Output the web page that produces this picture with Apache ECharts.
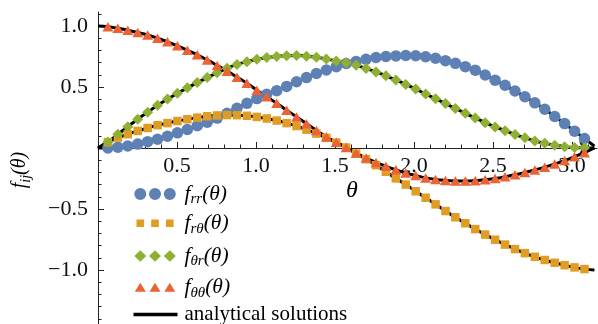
<!DOCTYPE html>
<html>
<head>
<meta charset="utf-8">
<script src="https://cdn.jsdelivr.net/npm/echarts@6/dist/echarts.min.js"></script>
<style>
  html, body { margin: 0; padding: 0; background: #fff; }
  #chart { width: 598px; height: 324px; }
</style>
</head>
<body>
<div id="chart"></div>
<script>
// sample angles (k*pi/50)
var theta = [0, 0.0628, 0.1257, 0.1885, 0.2513, 0.3142, 0.3770, 0.4398, 0.5027, 0.5655,
  0.6283, 0.6912, 0.7540, 0.8168, 0.8796, 0.9425, 1.0053, 1.0681, 1.1310, 1.1938,
  1.2566, 1.3195, 1.3823, 1.4451, 1.5080, 1.5708, 1.6336, 1.6965, 1.7593, 1.8221,
  1.8850, 1.9478, 2.0106, 2.0735, 2.1363, 2.1991, 2.2619, 2.3248, 2.3876, 2.4504,
  2.5133, 2.5761, 2.6389, 2.7018, 2.7646, 2.8274, 2.8903, 2.9531, 3.0159, 3.0788, 3.1416];

var fRR = [0.000, 0.000, 0.006, 0.016, 0.032, 0.052, 0.072, 0.096, 0.124, 0.152,
  0.182, 0.212, 0.245, 0.285, 0.325, 0.366, 0.405, 0.440, 0.470, 0.505,
  0.543, 0.577, 0.611, 0.639, 0.667, 0.693, 0.710, 0.728, 0.742, 0.750,
  0.755, 0.758, 0.756, 0.748, 0.736, 0.716, 0.694, 0.667, 0.638, 0.598,
  0.556, 0.514, 0.467, 0.420, 0.370, 0.318, 0.258, 0.200, 0.138, 0.078, 0.015];

var fRT = [0.000, 0.048, 0.085, 0.113, 0.140, 0.164, 0.187, 0.204, 0.221, 0.236,
  0.249, 0.260, 0.267, 0.270, 0.269, 0.264, 0.255, 0.242, 0.225, 0.204,
  0.180, 0.150, 0.118, 0.083, 0.044, 0.004, -0.046, -0.092, -0.141, -0.195,
  -0.249, -0.300, -0.355, -0.408, -0.462, -0.517, -0.568, -0.617, -0.665, -0.710,
  -0.752, -0.792, -0.829, -0.862, -0.892, -0.918, -0.941, -0.961, -0.979, -0.993, -1.000];

var fTR = [0.000, 0.050, 0.112, 0.175, 0.236, 0.293, 0.350, 0.401, 0.448, 0.493,
  0.536, 0.577, 0.616, 0.653, 0.685, 0.708, 0.727, 0.741, 0.751, 0.757,
  0.758, 0.753, 0.744, 0.730, 0.714, 0.698, 0.678, 0.652, 0.624, 0.592,
  0.557, 0.521, 0.483, 0.443, 0.403, 0.364, 0.324, 0.284, 0.246, 0.208,
  0.173, 0.142, 0.110, 0.083, 0.058, 0.038, 0.023, 0.011, 0.004, 0.001, 0.000];

var fTT = [1.000, 0.994, 0.982, 0.966, 0.947, 0.926, 0.900, 0.871, 0.838, 0.801,
  0.764, 0.722, 0.677, 0.630, 0.581, 0.530, 0.474, 0.420, 0.366, 0.309,
  0.255, 0.199, 0.144, 0.092, 0.047, 0.004, -0.042, -0.082, -0.118, -0.150,
  -0.179, -0.205, -0.226, -0.245, -0.258, -0.266, -0.270, -0.271, -0.268, -0.261,
  -0.250, -0.236, -0.220, -0.201, -0.180, -0.157, -0.131, -0.103, -0.071, -0.038, 0.000];

var xTicks = [0.5, 1.0, 1.5, 2.0, 2.5, 3.0];
var xMinor = [0.1, 0.2, 0.3, 0.4, 0.6, 0.7, 0.8, 0.9, 1.1, 1.2, 1.3, 1.4, 1.6, 1.7, 1.8, 1.9,
  2.1, 2.2, 2.3, 2.4, 2.6, 2.7, 2.8, 2.9, 3.1];
var yTicks = [-1.0, -0.5, 0.5, 1.0];
var yMinor = [-1.4, -1.3, -1.2, -1.1, -0.9, -0.8, -0.7, -0.6, -0.4, -0.3, -0.2, -0.1,
  0.1, 0.2, 0.3, 0.4, 0.6, 0.7, 0.8, 0.9, 1.1];

var names = ['frr', 'frt', 'ftr', 'ftt'];
var subs = ['rr', 'rθ', 'θr', 'θθ'];
var colors = ['#5e81b5', '#e19c24', '#8fb032', '#eb6235'];
var symbols = ['circle', 'rect', 'diamond', 'triangle'];
var sizes = [11.5, 8.5, [11, 11], [11, 9.5]];
var values = [fRR, fRT, fTR, fTT];

var serif = '"Liberation Serif", "DejaVu Serif", serif';
// legend icons: three markers in a 44x12 box (tiny corner dots fix the box)
var corners = 'M0,0h0.01v0.01h-0.01Z M44,12h-0.01v-0.01h0.01Z ';
var legendIcons = [
  'path://' + corners + 'M0.8,6A6,6,0,1,1,12.8,6A6,6,0,1,1,0.8,6Z M15.5,6A6,6,0,1,1,27.5,6A6,6,0,1,1,15.5,6Z M30.3,6A6,6,0,1,1,42.3,6A6,6,0,1,1,30.3,6Z',
  'path://' + corners + 'M3,2.2h7.6v7.6h-7.6Z M17.7,2.2h7.6v7.6h-7.6Z M32.5,2.2h7.6v7.6h-7.6Z',
  'path://' + corners + 'M6.8,0.2L12.8,6L6.8,11.8L0.8,6Z M21.5,0.2L27.5,6L21.5,11.8L15.5,6Z M36.3,0.2L42.3,6L36.3,11.8L30.3,6Z',
  'path://' + corners + 'M6.8,1.5L12.3,10.5L1.3,10.5Z M21.5,1.5L27,10.5L16,10.5Z M36.3,1.5L41.8,10.5L30.8,10.5Z',
  'path://' + corners + 'M0,4.35H44V7.65H0Z'
];
var legendRows = [192, 221.3, 254, 285.3, 313];

function pairs(arr) {
  return theta.map(function (t, i) { return [t, arr[i]]; });
}

var series = [];
values.forEach(function (arr) {
  series.push({
    name: 'analytical solutions',
    type: 'line',
    data: pairs(arr),
    smooth: true,
    showSymbol: false,
    silent: true,
    z: 1,
    itemStyle: { color: '#000' },
    lineStyle: { color: '#000', width: 3 }
  });
});
values.forEach(function (arr, i) {
  series.push({
    name: names[i],
    type: 'scatter',
    data: pairs(arr).slice(1, 50),
    symbol: symbols[i],
    symbolSize: sizes[i],
    z: 3 + i,
    itemStyle: { color: colors[i], opacity: 1 }
  });
});

var richText = {
  f: { fontFamily: serif, fontStyle: 'italic', fontSize: 21.5, lineHeight: 26, color: '#000', padding: [0, 0, 0, 0] },
  p: { fontFamily: serif, fontStyle: 'italic', fontSize: 21.5, lineHeight: 26, color: '#000', padding: [0, 0, 0, 2] },
  s: { fontFamily: serif, fontStyle: 'italic', fontSize: 15, lineHeight: 15, verticalAlign: 'bottom', color: '#000' },
  a: { fontFamily: serif, fontSize: 21, lineHeight: 26, color: '#000', padding: [0, 0, 0, 2] }
};

var legendNames = names.concat(['analytical solutions']);
var legends = legendNames.map(function (n, i) {
  var item = { name: n, icon: legendIcons[i] };
  if (i === 4) item.itemStyle = { color: '#000' };
  return {
    orient: 'vertical', left: 133.5, top: legendRows[i] - 9, padding: 0,
    itemWidth: 44, itemHeight: 12, selectedMode: false,
    data: [item],
    formatter: function (name) {
      var k = names.indexOf(name);
      if (k < 0) return '{a|' + name + '}';
      return '{p|f}{s|' + subs[k] + '}{f|(θ)}';
    },
    textStyle: { rich: richText }
  };
});

var zeroOffset = -176;  // move the x axis up from the grid bottom to y = 0

var chart = echarts.init(document.getElementById('chart'));
chart.setOption({
  animation: false,
  backgroundColor: '#fff',
  grid: { left: 98, top: 12, width: 499, height: 312, outerBoundsMode: 'none', containLabel: false },
  xAxis: [{
    type: 'value', min: 0, max: 3.158, position: 'bottom', offset: zeroOffset,
    axisLine: { onZero: false, lineStyle: { color: '#222', width: 1 },
      symbol: ['none', 'arrow'], symbolSize: [10, 12], symbolOffset: [0, -6] },
    axisTick: { customValues: xTicks, inside: true, length: 6, lineStyle: { color: '#222' } },
    axisLabel: { customValues: xTicks, margin: 7, fontFamily: serif, fontSize: 22, color: '#111',
      formatter: function (v) { return v.toFixed(1); } },
    splitLine: { show: false }
  }, {
    type: 'value', min: 0, max: 3.158, position: 'bottom', offset: zeroOffset,
    axisLine: { show: false, onZero: false },
    axisTick: { customValues: xMinor, inside: true, length: 3.5, lineStyle: { color: '#222' } },
    axisLabel: { show: false },
    splitLine: { show: false }
  }],
  yAxis: [{
    type: 'value', min: -1.443, max: 1.115, position: 'left',
    axisLine: { show: true, onZero: false, lineStyle: { color: '#222', width: 1 } },
    axisTick: { customValues: yTicks, inside: true, length: 6, lineStyle: { color: '#222' } },
    axisLabel: { customValues: yTicks, margin: 10, fontFamily: serif, fontSize: 22, color: '#111',
      formatter: function (v) { return v < 0 ? '\u2212' + Math.abs(v).toFixed(1) : v.toFixed(1); } },
    splitLine: { show: false }
  }, {
    type: 'value', min: -1.443, max: 1.115, position: 'left',
    axisLine: { show: false, onZero: false },
    axisTick: { customValues: yMinor, inside: true, length: 3.5, lineStyle: { color: '#222' } },
    axisLabel: { show: false },
    splitLine: { show: false }
  }],
  legend: legends,
  graphic: [{
    type: 'text', x: 20, y: 170, rotation: Math.PI / 2,
    style: {
      text: '{f|f}{s|ij}{f|(θ)}',
      rich: {
        f: { fontFamily: serif, fontStyle: 'italic', fontSize: 20, lineHeight: 26, fill: '#000' },
        s: { fontFamily: serif, fontStyle: 'italic', fontSize: 14, lineHeight: 15, verticalAlign: 'bottom', fill: '#000' }
      },
      align: 'center', verticalAlign: 'middle'
    }
  }, {
    type: 'text', x: 352, y: 191,
    style: { text: 'θ', font: 'italic 24px ' + serif, fill: '#000', align: 'center', verticalAlign: 'middle' }
  }],
  series: series
});
</script>
</body>
</html>
